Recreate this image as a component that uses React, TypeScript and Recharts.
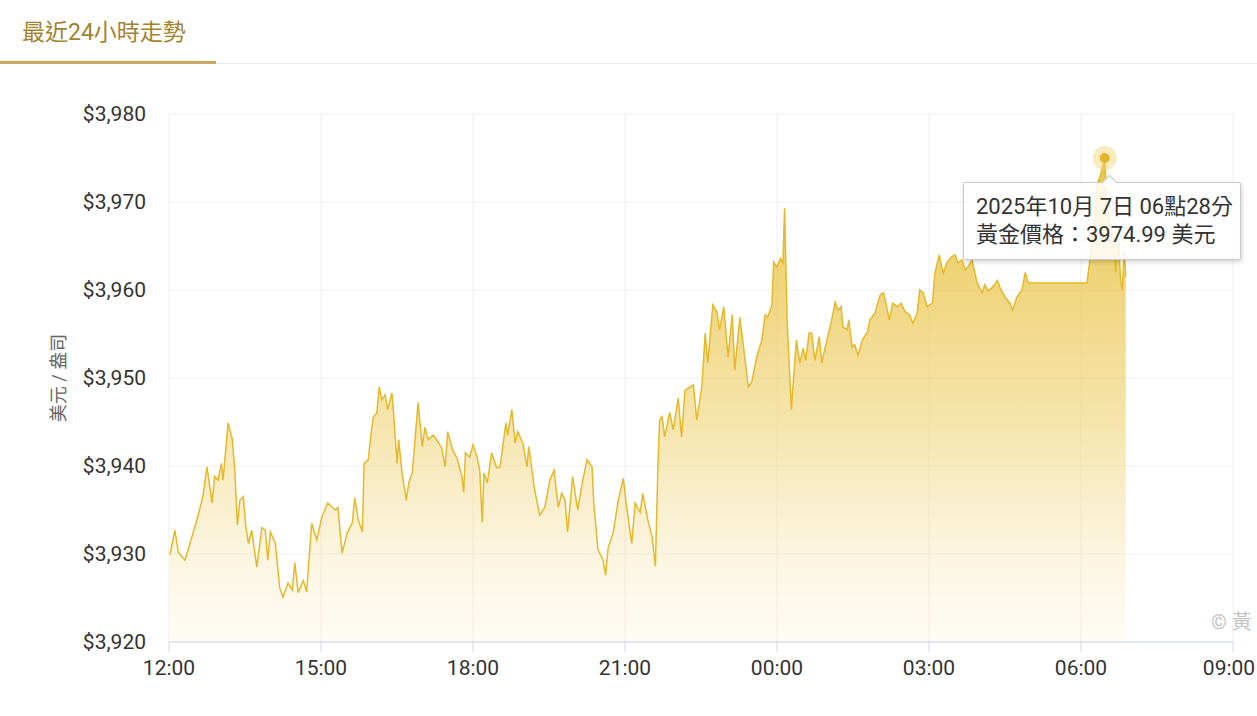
import React from "react";
import { AreaChart, Area, XAxis, YAxis, CartesianGrid, Tooltip } from "recharts";

// minutes after 12:00 (6 Oct 2025)
const minutes = [
  1, 7, 11, 19, 27, 33, 37, 40, 45, 51, 54, 58, 62, 64, 70, 75, 78, 81, 84, 88, 91, 94, 98, 104, 110, 114, 117, 120, 126, 131,
  135, 141, 146, 149, 153, 159, 163, 169, 175, 181, 188, 197, 200, 205, 211, 217, 220, 224, 229, 231, 236, 239, 242, 246, 249,
  252, 256, 259, 264, 266, 270, 272, 276, 281, 284, 288, 295, 300, 303, 307, 313, 319, 323, 327, 330, 336, 341, 347, 349, 351,
  356, 360, 365, 368, 371, 373, 377, 382, 388, 392, 399, 401, 406, 410, 413, 419, 424, 426, 433, 439, 445, 451, 456, 461, 465,
  469, 472, 478, 484, 490, 495, 501, 503, 508, 514, 517, 520, 526, 532, 538, 542, 548, 552, 558, 561, 567, 572, 576, 579, 581,
  584, 587, 593, 597, 603, 607, 611, 617, 621, 625, 631, 635, 638, 644, 649, 652, 657, 662, 667, 670, 676, 682, 686, 690, 696,
  702, 706, 709, 714, 716, 720, 724, 727, 729, 732, 737, 740, 743, 747, 751, 754, 758, 761, 765, 770, 773, 777, 783, 789, 792,
  796, 798, 803, 805, 809, 812, 816, 821, 827, 830, 836, 842, 846, 849, 853, 857, 863, 867, 872, 877, 881, 886, 889, 893, 898,
  904, 907, 912, 917, 921, 927, 931, 934, 939, 943, 946, 951, 957, 963, 966, 970, 975, 981, 984, 990, 996, 999, 1004, 1010, 1014,
  1017, 1020, 1050, 1087, 1090, 1094, 1099, 1103, 1108, 1111, 1114, 1118, 1121, 1124, 1127, 1129, 1131, 1133,
];

const prices = [
  3929.9, 3932.7, 3930.2, 3929.3, 3931.9, 3933.9, 3935.3, 3936.5, 3939.9, 3935.8, 3938.8, 3938.4, 3940.3, 3938.4, 3944.9, 3943.0,
  3939.5, 3933.3, 3936.1, 3936.5, 3933.1, 3931.2, 3932.7, 3928.5, 3933.0, 3932.7, 3929.3, 3932.5, 3931.2, 3926.2,
  3925.1, 3926.7, 3925.9, 3929.0, 3925.6, 3927.0, 3925.7, 3933.5, 3931.6, 3934.2, 3935.8, 3935.0, 3935.3, 3930.1, 3932.4, 3933.5,
  3936.4, 3933.9, 3932.5, 3940.3, 3940.7, 3943.5, 3945.6, 3946.0, 3949.0,
  3947.5, 3948.1, 3946.4, 3948.3, 3946.0, 3940.3, 3943.0, 3939.2, 3936.1, 3938.1, 3939.2, 3947.2, 3942.2, 3944.4, 3943.0, 3943.5,
  3942.7, 3942.0, 3939.9, 3943.9, 3941.8, 3940.9, 3938.8, 3937.0, 3941.5,
  3941.0, 3942.4, 3941.0, 3939.5, 3933.6, 3939.2, 3938.1, 3941.5, 3939.8, 3939.9, 3944.9, 3943.5, 3946.4, 3942.6, 3943.9, 3942.6,
  3939.9, 3942.2, 3937.3, 3934.4, 3935.3, 3938.4, 3939.5, 3935.3, 3936.9,
  3936.1, 3932.5, 3938.8, 3935.0, 3938.4, 3940.7, 3939.9, 3935.8, 3930.5, 3929.3, 3927.6, 3930.7, 3932.4, 3936.1, 3938.6, 3935.3,
  3931.2, 3935.8, 3934.7, 3936.9, 3933.9, 3932.0, 3928.6, 3940.0, 3945.2,
  3945.6, 3943.3, 3946.1, 3944.1, 3947.7, 3943.3, 3948.6, 3949.0, 3949.2, 3945.2, 3949.0, 3955.1, 3951.7, 3958.3, 3957.5, 3955.5,
  3958.1, 3952.4, 3957.2, 3950.9, 3956.9, 3952.3, 3949.0, 3949.5, 3952.4,
  3954.3, 3957.2, 3956.9, 3958.3, 3963.2, 3962.6, 3963.6, 3963.1, 3969.3, 3956.6, 3946.4, 3950.6, 3954.3, 3951.7, 3953.4, 3952.0,
  3955.1, 3955.1, 3952.0, 3954.7, 3951.7, 3953.5, 3955.8, 3958.6, 3957.7,
  3958.1, 3955.8, 3955.5, 3956.6, 3953.5, 3953.8, 3952.6, 3954.3, 3955.2, 3956.6, 3957.4, 3959.4, 3959.7, 3958.5, 3956.6, 3958.5,
  3958.1, 3958.5, 3957.5, 3957.2, 3956.2, 3957.4, 3960.0, 3959.7, 3958.1,
  3958.5, 3961.9, 3964.0, 3961.9, 3963.1, 3963.8, 3964.0, 3963.1, 3963.4, 3962.3, 3962.6, 3963.4, 3960.8, 3959.7, 3960.6, 3959.9,
  3960.3, 3961.1, 3960.3, 3959.2, 3958.5, 3957.7, 3959.2, 3960.0, 3962.0,
  3960.9, 3960.8, 3960.8, 3960.8, 3963.0, 3966.5, 3972.0, 3973.0, 3974.99, 3970.0, 3967.5, 3966.5, 3962.0, 3966.0, 3961.0, 3960.0,
  3964.5, 3961.5,
];

const tickMinutes = [0, 180, 360, 540, 720, 900, 1080, 1260];
const tickLabels = ["12:00", "15:00", "18:00", "21:00", "00:00", "03:00", "06:00", "09:00"];
const yTicks = [3920, 3930, 3940, 3950, 3960, 3970, 3980];
const ACTIVE_MINUTE = 1108;

const data = minutes.map((m, i) => ({ m, price: prices[i] }));
const activeIndex = minutes.indexOf(ACTIVE_MINUTE);

const FONT = "Roboto, 'Noto Sans CJK TC', 'Noto Sans', sans-serif";

const pad = (n: number) => (n < 10 ? "0" + n : String(n));

const TipContent = (props: any) => {
  const { active, payload } = props;
  if (!active || !payload || !payload.length) return null;
  const p = payload[0].payload;
  const total = 12 * 60 + p.m;
  const day = total >= 24 * 60 ? 7 : 6;
  const hh = Math.floor(total / 60) % 24;
  const mm = total % 60;
  return (
    <div
      style={{
        position: "relative",
        background: "rgba(255,255,255,0.85)",
        border: "1px solid #c9c9c9",
        borderRadius: 2,
        boxShadow: "1px 2px 4px rgba(0,0,0,0.18)",
        padding: "10px 10px 10px 12px",
        fontFamily: FONT,
        fontSize: 22,
        lineHeight: "28px",
        color: "#333",
        whiteSpace: "nowrap",
        width: 254,
      }}
    >
      <div
        style={{
          position: "absolute",
          top: -6,
          left: 140,
          width: 10,
          height: 10,
          background: "rgba(255,255,255,0.95)",
          borderTop: "1px solid #c9c9c9",
          borderLeft: "1px solid #c9c9c9",
          transform: "rotate(45deg)",
        }}
      />
      <div>{`2025年10月 ${day}日 ${pad(hh)}點${pad(mm)}分`}</div>
      <div>{`黃金價格：${p.price.toFixed(2)} 美元`}</div>
    </div>
  );
};

const ActiveDot = (props: any) => {
  const { cx, cy } = props;
  if (cx == null || cy == null) return null;
  return (
    <g>
      <circle cx={cx} cy={cy} r={12} fill="#f2d56a" fillOpacity={0.45} />
      <circle cx={cx} cy={cy} r={5} fill="#e2b52a" />
    </g>
  );
};

const XTick = (props: any) => {
  const { x, y, payload, index } = props;
  const label = tickLabels[tickMinutes.indexOf(payload.value)];
  const last = index === tickMinutes.length - 1;
  return (
    <text
      x={last ? x - 4 : x}
      y={y}
      dy="0.71em"
      textAnchor="middle"
      fill="#333"
      fontSize={21}
      fontFamily={FONT}
    >
      {label}
    </text>
  );
};

const YLabel = (props: any) => {
  const vb = props.viewBox || {};
  const x = (vb.x || 0) + 58;
  const y = (vb.y || 0) + (vb.height || 0) / 2;
  return (
    <text
      x={x}
      y={y}
      transform={`rotate(-90 ${x} ${y})`}
      textAnchor="middle"
      dominantBaseline="central"
      fill="#666"
      fontSize={18}
      fontFamily={FONT}
    >
      美元 / 盎司
    </text>
  );
};

export default function App() {
  return (
    <div
      style={{
        position: "fixed",
        left: 0,
        top: 0,
        width: 1257,
        height: 716,
        overflow: "hidden",
        background: "#fff",
        fontFamily: FONT,
      }}
    >
      <div
        style={{
          position: "absolute",
          left: 0,
          top: 0,
          width: 1257,
          height: 63,
          borderBottom: "1px solid #ececec",
        }}
      />
      <div
        style={{
          position: "absolute",
          left: 0,
          top: 0,
          width: 216,
          height: 61,
          borderBottom: "3px solid #c8aa62",
        }}
      >
        <div
          style={{
            position: "absolute",
            left: 22,
            top: 13,
            fontSize: 23,
            color: "#a2832f",
            whiteSpace: "nowrap",
          }}
        >
          最近24小時走勢
        </div>
      </div>

      <div style={{ position: "absolute", left: 0, top: 0 }}>
        <AreaChart
          width={1257}
          height={716}
          data={data}
          margin={{ top: 114, right: 24, bottom: 30, left: 0 }}
        >
          <defs>
            <linearGradient id="goldFill" x1="0" y1="0" x2="0" y2="1">
              <stop offset="0%" stopColor="#e7bf3a" stopOpacity={0.92} />
              <stop offset="55%" stopColor="#efd170" stopOpacity={0.58} />
              <stop offset="100%" stopColor="#f8e8b8" stopOpacity={0.15} />
            </linearGradient>
          </defs>
          <CartesianGrid stroke="#efefef" strokeWidth={1} />
          <XAxis
            dataKey="m"
            type="number"
            domain={[0, 1260]}
            ticks={tickMinutes}
            axisLine={{ stroke: "#ccd6eb" }}
            tickLine={{ stroke: "#ccd6eb" }}
            tickSize={10}
            tickMargin={8}
            height={44}
            tick={<XTick />}
            interval={0}
            allowDataOverflow
          />
          <YAxis
            type="number"
            domain={[3920, 3980]}
            ticks={yTicks}
            width={169}
            axisLine={false}
            tickLine={false}
            tickSize={0}
            tickMargin={23}
            tick={{ fill: "#333", fontSize: 21, fontFamily: FONT }}
            tickFormatter={(v: number) => "$" + v.toLocaleString("en-US")}
            interval={0}
            allowDataOverflow
            label={<YLabel />}
          />
          <Tooltip
            content={<TipContent />}
            cursor={false}
            active={true}
            defaultIndex={activeIndex}
            position={{ x: 963, y: 182 }}
            isAnimationActive={false}
            wrapperStyle={{ outline: "none" }}
          />
          <Area
            type="linear"
            dataKey="price"
            stroke="#e5b92a"
            strokeWidth={1.5}
            fill="url(#goldFill)"
            fillOpacity={1}
            baseValue={3920}
            dot={false}
            activeDot={<ActiveDot />}
            isAnimationActive={false}
          />
        </AreaChart>
      </div>

      <div
        style={{
          position: "absolute",
          left: 1211,
          top: 606,
          fontSize: 20,
          color: "#c4c4c4",
          whiteSpace: "nowrap",
        }}
      >
        © 黃
      </div>
    </div>
  );
}
